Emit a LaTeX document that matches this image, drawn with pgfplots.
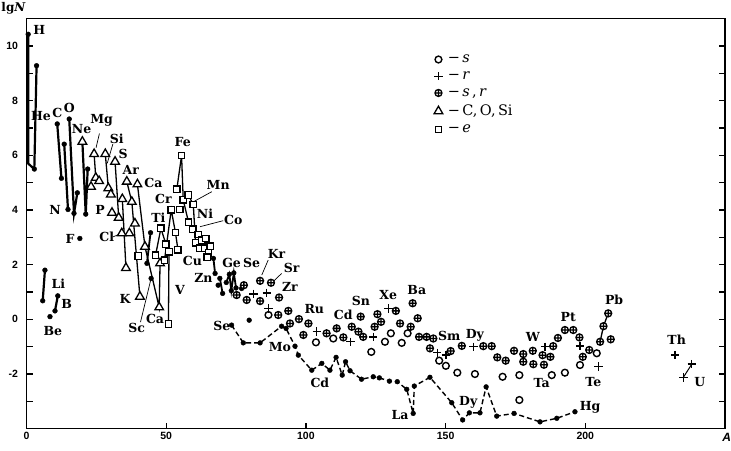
\documentclass[border=0pt]{standalone}
\usepackage{fontspec}
\setmainfont{Liberation Serif}
\setsansfont{Liberation Sans}
\newfontfamily\dvs{DejaVu Serif}
\usepackage{pgfplots}
\pgfplotsset{compat=1.18}
\newcommand{\lbl}{\dvs\fontsize{12.5}{14}\selectfont\bfseries}
\pgfplotsset{
  thk/.style={black, line width=2.2pt, no markers},
  thn/.style={black, line width=1.3pt, no markers},
  dsh/.style={black, line width=1.4pt, dash pattern=on 5pt off 3pt, no markers},
  dots/.style={black, only marks, mark=*, mark size=2.4pt},
  tri/.style={black, only marks, mark=triangle*, mark size=5pt, mark options={fill=white, line width=1.3pt}},
  sqr/.style={black, only marks, mark=square*, mark size=3.2pt, mark options={fill=white, line width=1.3pt}},
  opl/.style={black, only marks, mark=oplus*, mark size=3.5pt, mark options={fill=white, line width=1.3pt}},
  cir/.style={black, only marks, mark=*, mark size=3.4pt, mark options={fill=white, line width=1.4pt}},
  pls/.style={black, only marks, mark=+, mark size=4.2pt, mark options={line width=1.4pt}},
}
\begin{document}
\begin{tikzpicture}
\begin{axis}[
  name=ax, scale only axis, width=698.5pt, height=410pt,
  xmin=0, xmax=250, ymin=-4, ymax=11, clip=false,
  axis line style={line width=1.4pt},
  xtick={0,50,100,150,200}, xtick pos=left,
  ytick={-2,0,...,10}, minor ytick={-3,-1,...,9}, ytick pos=both,
  major tick length=6pt, minor tick length=6pt,
  tick style={black, line width=1.2pt},
  tick label style={font=\fontsize{10.5}{12}\selectfont\bfseries\sffamily},
  /pgf/number format/assume math mode=true,
  yticklabel style={xshift=-5pt},
  legend style={at={(0.579,0.922)}, anchor=north west, draw=none, fill=none,
    font=\dvs\fontsize{14.5}{16}\selectfont, row sep=3.5pt,
    /tikz/every odd column/.append style={column sep=3pt}},
  legend cell align=left,
]
% legend
\addlegendimage{cir}
\addlegendentry{−\,\textit{s}}
\addlegendimage{pls}
\addlegendentry{−\,\textit{r}}
\addlegendimage{opl}
\addlegendentry{−\,\textit{s}\,,\,\textit{r}}
\addlegendimage{tri}
\addlegendentry{−\,C,\,O,\,Si}
\addlegendimage{sqr}
\addlegendentry{−\,\textit{e}}

% light elements: thick lines
\addplot[thk] coordinates {(0.6,10.43) (0.6,5.7) (2.8,5.5) (3.6,9.28)};
\addplot[thk] coordinates {(11.0,7.15) (12.5,5.16)};
\addplot[thk] coordinates {(13.5,6.41) (14.85,4.02)};
\addplot[thk] coordinates {(15.3,7.33) (17.0,3.88) (18.2,4.63)};
\addplot[thk] coordinates {(20.0,6.5) (21.2,3.85) (21.9,5.5)};
\addplot[thk] coordinates {(5.8,0.68) (6.6,1.80)};
\addplot[thk] coordinates {(10.2,0.31) (11.2,0.86)};
% triangle lines
\addplot[thn] coordinates {(24.2,6.05) (24.8,5.18)};
\addplot[thn] coordinates {(28.2,6.05) (29.3,4.8) (30.2,4.57)};
\addplot[thn] coordinates {(31.7,5.77) (33.0,3.72)};
\addplot[thn] coordinates {(34.3,4.4) (35.6,1.88)};
\addplot[thn] coordinates {(35.9,5.04) (37.7,4.30) (40.6,0.83)};
\addplot[thn] coordinates {(39.7,4.94) (42.4,2.66) (47.5,0.44) (47.8,2.05)};
% square lines
\addplot[thn] coordinates {(46.2,2.35) (48.1,3.33) (49.9,2.75)};
\addplot[thn] coordinates {(50.8,-0.17) (51.0,2.47)};
\addplot[thn] coordinates {(49.4,2.17) (51.8,4.01) (53.3,3.18) (54.2,2.55)};
\addplot[thn] coordinates {(53.8,4.76) (55.5,5.99) (56.1,4.37) (58.0,3.55)};
\addplot[thn] coordinates {(57.9,4.55) (59.7,4.2) (60.5,2.8) (62.5,2.96) (64.2,2.96)};
\addplot[thn] coordinates {(62.7,2.9) (65.1,2.44)};
\addplot[thn] coordinates {(65.7,2.68) (64.7,2.27)};
% solid dotted lines (Ca--Ge)
\addplot[black, line width=1.8pt] coordinates {(44.4,3.17) (43.1,2.05)};
\addplot[black, line width=1.8pt] coordinates {(66.9,2.23) (67.5,1.68)};
\addplot[black, line width=1.8pt] coordinates {(69.2,1.5) (70.2,0.95)};
\addplot[black, line width=1.8pt] coordinates {(71.5,1.35) (72.6,1.65) (73.3,1.05) (74.2,1.7) (75.0,1.15)};
% p-nuclei dashed
\addplot[dsh] coordinates {(73.4,-0.21) (77.6,-0.86) (83.6,-0.86) (91.3,-0.25) (92.9,-0.33) (96.1,-0.98) (97.3,-1.31) (102.1,-1.86) (105.7,-1.61) (108.6,-1.86) (110.8,-1.39) (113.0,-2.04) (114.2,-1.55) (115.8,-1.88) (119.9,-2.19) (124.1,-2.10) (126.3,-2.14) (129.9,-2.26) (132.7,-2.28) (136.1,-2.56) (138.4,-3.44) (138.8,-2.44) (144.4,-2.12) (152.2,-3.05) (156.1,-3.68) (158.5,-3.42) (162.3,-3.42) (164.5,-2.47) (168.3,-3.54) (174.5,-3.44) (183.8,-3.75) (189.8,-3.62) (196.3,-3.38)};
\addplot[dots] coordinates {(73.4,-0.21) (77.6,-0.86) (83.6,-0.86) (91.3,-0.25) (92.9,-0.33) (96.1,-0.98) (97.3,-1.31) (102.1,-1.86) (105.7,-1.61) (108.6,-1.86) (110.8,-1.39) (113.0,-2.04) (114.2,-1.55) (115.8,-1.88) (119.9,-2.19) (124.1,-2.10) (126.3,-2.14) (129.9,-2.26) (132.7,-2.28) (136.1,-2.56) (138.4,-3.44) (138.8,-2.44) (144.4,-2.12) (152.2,-3.05) (156.1,-3.68) (158.5,-3.42) (162.3,-3.42) (164.5,-2.47) (168.3,-3.54) (174.5,-3.44) (183.8,-3.75) (189.8,-3.62) (196.3,-3.38)};
% Pb and U lines
\addplot[thn] coordinates {(205.3,-0.82) (206.5,-0.25) (208.2,0.22)};
\addplot[black, line width=1pt] coordinates {(235.1,-2.12) (238.1,-1.64)};

% dots
\addplot[dots] coordinates {(0.6,10.43) (2.8,5.5) (3.6,9.28) (11.0,7.15) (12.5,5.16) (13.5,6.41) (14.85,4.02) (15.3,7.33) (17.0,3.88) (18.2,4.63) (21.2,3.85) (21.9,5.5) (19.1,2.96) (5.8,0.68) (6.6,1.80) (10.2,0.31) (11.2,0.86) (8.4,0.10)
 (44.6,1.5) (44.4,3.17) (43.1,2.05) (66.9,2.23) (67.5,1.68) (69.2,1.5) (70.2,0.95) (71.5,1.35) (72.6,1.65) (73.3,1.05) (74.2,1.7) (75.0,1.15) (68.6,1.25) (77.0,1.13) (79.7,-0.03)};
% triangles
\addplot[tri] coordinates {(20.0,6.5) (23.1,4.85) (24.2,6.05) (24.8,5.18) (26.0,5.06) (28.2,6.05) (29.3,4.8) (30.2,4.57) (30.6,3.9) (31.7,5.77) (33.0,3.72) (34.3,4.4) (34.1,3.15) (35.6,1.88) (35.9,5.04) (37.7,4.30) (36.8,3.15) (38.8,3.51) (39.7,4.94) (40.6,0.83) (42.4,2.66) (47.5,0.44) (47.8,2.05)};
% squares
\addplot[sqr] coordinates {(40.0,2.32) (46.2,2.35) (48.1,3.33) (49.9,2.75) (49.4,2.17) (51.0,2.47) (50.8,-0.17) (51.8,4.01) (53.3,3.18) (54.2,2.55) (53.8,4.76) (54.9,4.02) (55.5,5.99) (56.1,4.37) (57.9,4.55) (59.7,4.2) (58.0,3.55) (59.5,3.3) (60.5,2.8) (61.5,3.1) (62.1,2.6) (62.7,2.9) (64.2,2.96) (63.9,2.6) (65.7,2.68) (65.1,2.44) (64.7,2.27)};
% s,r
\addplot[opl] coordinates {(75.2,0.89) (77.8,1.25) (78.8,0.71) (83.6,1.41) (83.6,0.67) (87.5,1.34) (90.4,0.80) (90.1,0.16) (93.7,0.31) (94.3,-0.15) (97.5,0.01) (100.9,-0.15) (99.1,-0.57) (107.4,-0.51) (111.0,-0.33) (113.4,-0.66) (116.4,-0.27) (118.8,-0.45) (120.5,-0.64) (119.6,0.10) (124.6,-0.27) (125.6,0.19) (126.9,-0.09) (132.2,0.31) (133.7,-0.15) (137.5,-0.27) (140.0,0.04) (138.2,0.59) (140.5,-0.64) (143.2,-0.64) (144.4,-1.06) (145.6,-0.70) (151.8,-1.16) (155.8,-0.97) (163.5,-0.98) (166.5,-0.98) (168.5,-1.39) (171.5,-1.51) (174.5,-1.15) (177.8,-1.27) (177.8,-1.55) (181.2,-1.15) (181.4,-1.64) (184.7,-1.31) (185.2,-1.66) (187.5,-1.37) (188.5,-0.98) (190.2,-0.68) (192.7,-0.39) (195.7,-0.39) (197.9,-0.66) (199.1,-1.37) (201.4,-1.12) (205.3,-0.82) (206.5,-0.25) (208.2,0.22) (209.1,-0.73)};
% s
\addplot[cir] coordinates {(86.6,0.16) (103.6,-0.84) (109.8,-0.70) (123.4,-1.19) (128.3,-0.82) (130.4,-0.51) (134.3,-0.86) (136.4,-0.51) (147.7,-1.51) (150.1,-1.70) (154.2,-1.95) (160.5,-2.0) (170.4,-2.10) (176.4,-2.04) (176.4,-2.95) (188.0,-2.04) (192.7,-1.95) (198.1,-1.67) (204.1,-1.24)};
% r
\addplot[pls] coordinates {(81.2,0.93) (86.0,0.97) (86.6,0.40) (103.9,-0.45) (116.0,-0.82) (124.1,-0.64) (129.5,0.40) (147.0,-1.22) (150.1,-1.31) (160.0,-1.0) (185.6,-1.0) (198.1,-0.98) (204.7,-1.73) (232.1,-1.31) (238.1,-1.64) (235.1,-2.12)};

% leaders
\draw[line width=0.7pt] (axis cs:26.1,6.8) -- (axis cs:24.9,6.28);
\draw[line width=0.7pt] (axis cs:30.9,6.41) -- (axis cs:28.9,5.71);
\draw[line width=0.7pt] (axis cs:31.0,3.02) -- (axis cs:34.1,3.15);
\draw[line width=0.7pt] (axis cs:40.8,-0.1) -- (axis cs:44.6,1.5);
\draw[line width=0.7pt] (axis cs:66.3,4.67) -- (axis cs:59.7,4.3);
\draw[line width=0.7pt] (axis cs:70.4,3.61) -- (axis cs:62.1,3.39);
\draw[line width=0.7pt] (axis cs:86.5,2.17) -- (axis cs:84.2,1.62);
\draw[line width=0.7pt] (axis cs:91.3,1.68) -- (axis cs:88.3,1.38);

% labels
\begin{scope}[every node/.style={font=\lbl, inner sep=0pt}]
\node at (axis cs:4.6,10.58) {H};
\node at (axis cs:5.2,7.44) {He};
\node at (axis cs:11.0,7.54) {C};
\node at (axis cs:15.3,7.72) {O};
\node at (axis cs:10.2,4.0) {N};
\node at (axis cs:19.75,6.95) {Ne};
\node at (axis cs:26.9,7.27) {Mg};
\node at (axis cs:32.3,6.62) {Si};
\node at (axis cs:34.6,6.04) {S};
\node at (axis cs:37.3,5.46) {Ar};
\node at (axis cs:45.4,5.0) {Ca};
\node at (axis cs:26.3,4.02) {P};
\node at (axis cs:28.7,3.02) {Cl};
\node at (axis cs:15.6,2.93) {F};
\node at (axis cs:11.4,1.32) {Li};
\node at (axis cs:14.4,0.55) {B};
\node at (axis cs:9.4,-0.42) {Be};
\node at (axis cs:35.3,0.73) {K};
\node at (axis cs:39.4,-0.33) {Sc};
\node at (axis cs:46.0,0.0) {Ca};
\node at (axis cs:54.9,1.07) {V};
\node at (axis cs:47.2,3.7) {Ti};
\node at (axis cs:49.0,4.39) {Cr};
\node at (axis cs:55.9,6.5) {Fe};
\node at (axis cs:68.6,4.91) {Mn};
\node at (axis cs:63.9,3.88) {Ni};
\node at (axis cs:74.0,3.63) {Co};
\node at (axis cs:59.4,2.14) {Cu};
\node at (axis cs:63.3,1.5) {Zn};
\node at (axis cs:73.4,2.05) {Ge};
\node at (axis cs:80.6,2.05) {Se};
\node at (axis cs:89.5,2.41) {Kr};
\node at (axis cs:94.9,1.87) {Sr};
\node at (axis cs:94.3,1.19) {Zr};
\node at (axis cs:103.0,0.37) {Ru};
\node at (axis cs:113.4,0.16) {Cd};
\node at (axis cs:119.7,0.68) {Sn};
\node at (axis cs:129.5,0.89) {Xe};
\node at (axis cs:139.7,1.07) {Ba};
\node at (axis cs:151.3,-0.61) {Sm};
\node at (axis cs:160.5,-0.58) {Dy};
\node at (axis cs:181.2,-0.64) {W};
\node at (axis cs:193.9,0.1) {Pt};
\node at (axis cs:210.3,0.71) {Pb};
\node at (axis cs:232.7,-0.73) {Th};
\node at (axis cs:241.0,-2.28) {U};
\node at (axis cs:202.9,-2.28) {Te};
\node at (axis cs:184.4,-2.34) {Ta};
\node at (axis cs:201.7,-3.2) {Hg};
\node at (axis cs:69.9,-0.25) {Se};
\node at (axis cs:90.7,-1.0) {Mo};
\node at (axis cs:105.0,-2.34) {Cd};
\node at (axis cs:133.7,-3.5) {La};
\node at (axis cs:158.1,-3.05) {Dy};
\end{scope}
\node[font=\dvs\fontsize{12}{14}\selectfont\bfseries, inner sep=0pt] at (axis cs:-4.6,11.39) {lg\textit{N}};
\node[font=\fontsize{12}{14}\selectfont\bfseries\sffamily\itshape, inner sep=0pt] at (axis cs:250.6,-4.31) {A};
\end{axis}
\pgfresetboundingbox
\path[use as bounding box] ([xshift=-26.5pt,yshift=-21.3pt]ax.south west) rectangle ([xshift=6pt,yshift=18.7pt]ax.north east);
\end{tikzpicture}
\end{document}
